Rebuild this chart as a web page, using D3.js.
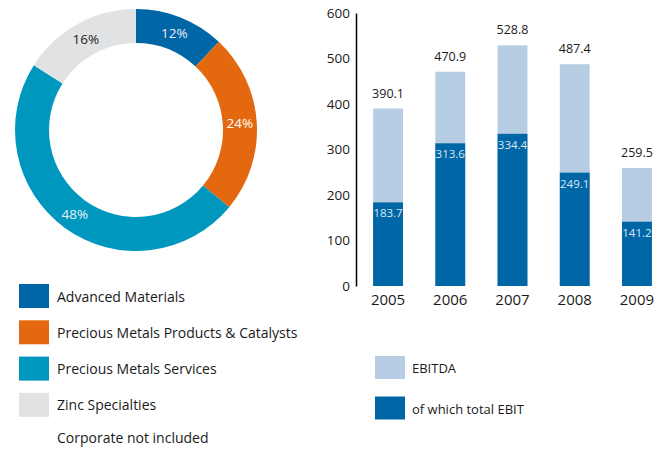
<!DOCTYPE html>
<head>
<meta charset="UTF-8">
<style>
body { margin: 0; background: #fff; }
svg text { font-family: "Open Sans", sans-serif; fill: #1a1a1a; }
</style>
</head>
<svg width="664" height="450"></svg>
<script src="https://d3js.org/d3.v7.min.js"></script>
<script>
// donut data
var segments = ["Advanced Materials", "Precious Metals Products & Catalysts", "Precious Metals Services", "Zinc Specialties"];
var shares = [12, 24, 48, 16];
var segColors = ["#0066a6", "#e3680f", "#0097bf", "#e1e2e4"];
var labelColors = ["#e8eef5", "#ffffff", "#e8f2f6", "#222222"];
var footnote = "Corporate not included";

// bar data
var years = ["2005", "2006", "2007", "2008", "2009"];
var ebitda = [390.1, 470.9, 528.8, 487.4, 259.5];
var ebit = [183.7, 313.6, 334.4, 249.1, 141.2];
var yTicks = [0, 100, 200, 300, 400, 500, 600];
var barLegend = ["EBITDA", "of which total EBIT"];
var barColors = ["#b7cde3", "#0066a6"];

var svg = d3.select("svg");

// ---- donut ----
var donut = svg.append("g").attr("transform", "translate(136,130)");
var pie = d3.pie().sort(null).value(function(d) { return d; });
var arc = d3.arc().innerRadius(87).outerRadius(121);
var labelArc = d3.arc().innerRadius(104).outerRadius(104);
var arcs = pie(shares);

donut.selectAll("path")
    .data(arcs)
    .enter().append("path")
    .attr("d", arc)
    .attr("fill", function(d, i) { return segColors[i]; });

donut.selectAll("text")
    .data(arcs)
    .enter().append("text")
    .attr("transform", function(d) { return "translate(" + labelArc.centroid(d) + ")"; })
    .attr("dy", "0.35em")
    .attr("text-anchor", "middle")
    .style("font-size", "13.5px")
    .style("fill", function(d, i) { return labelColors[i]; })
    .text(function(d, i) { return shares[i] + "%"; });

// donut legend
var leg = svg.append("g");
var legRows = leg.selectAll("g")
    .data(segments)
    .enter().append("g")
    .attr("transform", function(d, i) { return "translate(19," + (284 + i * 36.3) + ")"; });
legRows.append("rect")
    .attr("width", 30).attr("height", 24)
    .attr("fill", function(d, i) { return segColors[i]; });
legRows.append("text")
    .attr("x", 38).attr("y", 17.5)
    .style("font-size", "14px")
    .text(function(d) { return d; });
leg.append("text")
    .attr("x", 57).attr("y", 443)
    .style("font-size", "14px")
    .text(footnote);

// ---- bars ----
var x = d3.scaleBand().domain(years).range([342, 683]).paddingInner(0.52).paddingOuter(0.5);
var y = d3.scaleLinear().domain([0, 600]).range([286, 13]);

var chart = svg.append("g");

chart.selectAll(".ebitda")
    .data(ebitda)
    .enter().append("rect")
    .attr("class", "ebitda")
    .attr("x", function(d, i) { return x(years[i]); })
    .attr("y", function(d) { return y(d); })
    .attr("width", x.bandwidth())
    .attr("height", function(d) { return y(0) - y(d); })
    .attr("fill", barColors[0]);

chart.selectAll(".ebit")
    .data(ebit)
    .enter().append("rect")
    .attr("class", "ebit")
    .attr("x", function(d, i) { return x(years[i]); })
    .attr("y", function(d) { return y(d); })
    .attr("width", x.bandwidth())
    .attr("height", function(d) { return y(0) - y(d); })
    .attr("fill", barColors[1]);

chart.selectAll(".toplab")
    .data(ebitda)
    .enter().append("text")
    .attr("class", "toplab")
    .attr("x", function(d, i) { return x(years[i]) + x.bandwidth() / 2; })
    .attr("y", function(d) { return y(d) - 11; })
    .attr("text-anchor", "middle")
    .style("font-size", "12.5px")
    .text(function(d) { return d.toFixed(1); });

chart.selectAll(".inlab")
    .data(ebit)
    .enter().append("text")
    .attr("class", "inlab")
    .attr("x", function(d, i) { return x(years[i]) + x.bandwidth() / 2; })
    .attr("y", function(d) { return y(d) + 15; })
    .attr("text-anchor", "middle")
    .style("font-size", "11.5px")
    .style("fill", "#dce7f2")
    .text(function(d) { return d.toFixed(1); });

// y axis
var yAxis = chart.append("g")
    .attr("transform", "translate(356,0)")
    .call(d3.axisLeft(y).tickValues(yTicks).tickSize(0).tickPadding(6));
yAxis.select(".domain").attr("stroke", "#000").attr("stroke-width", 1.5);
yAxis.selectAll("text").style("font-size", "13.5px").style("font-family", "'Open Sans', sans-serif").attr("fill", "#1a1a1a");

// x axis labels
var xAxis = chart.append("g")
    .attr("transform", "translate(0,286)")
    .call(d3.axisBottom(x).tickSize(0).tickPadding(8));
xAxis.select(".domain").remove();
xAxis.selectAll("text").style("font-size", "15px").style("font-family", "'Open Sans', sans-serif").attr("fill", "#1a1a1a");

// bar legend
var bleg = svg.selectAll(".bleg")
    .data(barLegend)
    .enter().append("g")
    .attr("class", "bleg")
    .attr("transform", function(d, i) { return "translate(375," + (356 + i * 40.5) + ")"; });
bleg.append("rect")
    .attr("width", 30).attr("height", 23)
    .attr("fill", function(d, i) { return barColors[i]; });
bleg.append("text")
    .attr("x", 37).attr("y", 17)
    .style("font-size", "13px")
    .text(function(d) { return d; });
</script>
